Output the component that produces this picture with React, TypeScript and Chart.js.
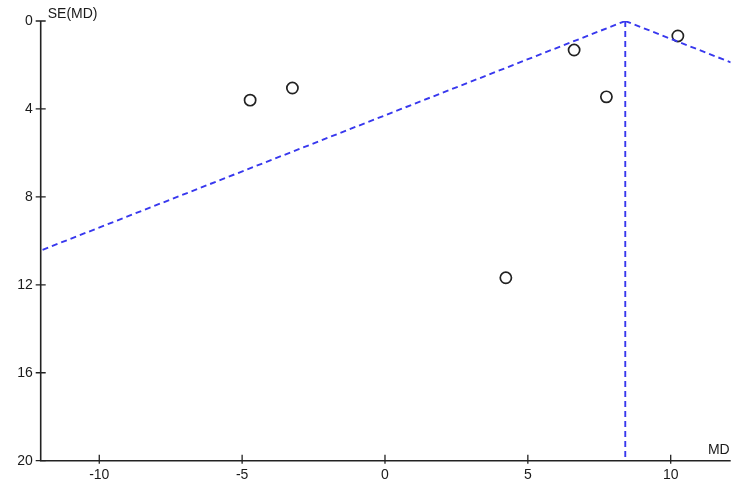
import React, { useEffect, useRef } from "react";
import { Chart, registerables } from "chart.js";

Chart.register(...registerables);

const studyMD = [-4.72, -3.24, 4.23, 6.62, 7.75, 10.25];
const studySE = [3.6, 3.05, 11.68, 1.32, 3.45, 0.68];
const pooledMD = 8.41;
const funnelLeftX = [pooledMD, -12.05];
const funnelLeftY = [0, 10.44];
const funnelRightX = [pooledMD, 12.1];
const funnelRightY = [0, 1.88];
const verticalX = [pooledMD, pooledMD];
const verticalY = [0, 20];
const xTickValues = [-10, -5, 0, 5, 10];
const yTickValues = [0, 4, 8, 12, 16, 20];
const xTitle = "MD";
const yTitle = "SE(MD)";

const AXIS_COLOR = "#222222";
const LINE_COLOR = "#3838ee";
const FONT = "Liberation Sans, Arial, sans-serif";

const axesPlugin = {
  id: "customAxes",
  afterDraw(chart: any) {
    const { ctx, chartArea, scales } = chart;
    const x = scales.x;
    const y = scales.y;
    ctx.save();
    ctx.strokeStyle = AXIS_COLOR;
    ctx.lineWidth = 1.6;
    ctx.beginPath();
    ctx.moveTo(chartArea.left, chartArea.top);
    ctx.lineTo(chartArea.left, chartArea.bottom);
    ctx.lineTo(chartArea.right, chartArea.bottom);
    ctx.stroke();
    ctx.lineWidth = 1.3;
    ctx.beginPath();
    for (const v of yTickValues) {
      const py = y.getPixelForValue(v);
      ctx.moveTo(chartArea.left - 5, py);
      ctx.lineTo(chartArea.left + 5, py);
    }
    for (const v of xTickValues) {
      const px = x.getPixelForValue(v);
      ctx.moveTo(px, chartArea.bottom - 6);
      ctx.lineTo(px, chartArea.bottom + 3);
    }
    ctx.stroke();
    ctx.fillStyle = "#1a1a1a";
    ctx.font = "14px " + FONT;
    ctx.textBaseline = "alphabetic";
    ctx.textAlign = "left";
    ctx.fillText(yTitle, chartArea.left + 7, 17.5);
    ctx.textAlign = "right";
    ctx.fillText(xTitle, chartArea.right - 1, chartArea.bottom - 7);
    ctx.restore();
  },
};

export default function App() {
  const canvasRef = useRef<HTMLCanvasElement | null>(null);

  useEffect(() => {
    document.body.style.margin = "0";
    const canvas = canvasRef.current;
    if (!canvas) return;
    const lineDs = (xs: number[], ys: number[]) => ({
      type: "line" as const,
      data: xs.map((v, i) => ({ x: v, y: ys[i] })),
      borderColor: LINE_COLOR,
      borderWidth: 1.9,
      borderDash: [6, 4],
      pointRadius: 0,
      fill: false,
      tension: 0,
    });
    const chart = new Chart(canvas, {
      type: "scatter",
      data: {
        datasets: [
          lineDs(funnelLeftX, funnelLeftY),
          lineDs(funnelRightX, funnelRightY),
          lineDs(verticalX, verticalY),
          {
            type: "scatter",
            data: studyMD.map((v, i) => ({ x: v, y: studySE[i] })),
            pointRadius: 5.6,
            pointBorderWidth: 1.7,
            pointBorderColor: "#222222",
            pointBackgroundColor: "rgba(0,0,0,0)",
            pointHoverRadius: 5.6,
          } as any,
        ],
      },
      options: {
        animation: false,
        responsive: false,
        maintainAspectRatio: false,
        layout: { padding: { left: 0, top: 21, right: 19.3, bottom: 9.3 } },
        plugins: { legend: { display: false }, tooltip: { enabled: false } },
        scales: {
          x: {
            type: "linear",
            min: -12.05,
            max: 12.1,
            grid: { display: false, drawTicks: false },
            border: { display: false },
            afterFit: (s: any) => {
              s.height = 30;
            },
            afterBuildTicks: (s: any) => {
              s.ticks = xTickValues.map((v) => ({ value: v }));
            },
            ticks: {
              padding: 6,
              color: "#1a1a1a",
              font: { family: FONT, size: 14 },
            },
          },
          y: {
            type: "linear",
            reverse: true,
            min: 0,
            max: 20,
            grid: { display: false, drawTicks: false },
            border: { display: false },
            afterFit: (s: any) => {
              s.width = 40.7;
            },
            afterBuildTicks: (s: any) => {
              s.ticks = yTickValues.map((v) => ({ value: v }));
            },
            ticks: {
              padding: 8,
              color: "#1a1a1a",
              font: { family: FONT, size: 14 },
            },
          },
        },
      },
      plugins: [axesPlugin],
    });
    return () => chart.destroy();
  }, []);

  return (
    <div style={{ width: 750, height: 500, background: "#ffffff" }}>
      <canvas ref={canvasRef} width={750} height={500} style={{ display: "block" }} />
    </div>
  );
}
